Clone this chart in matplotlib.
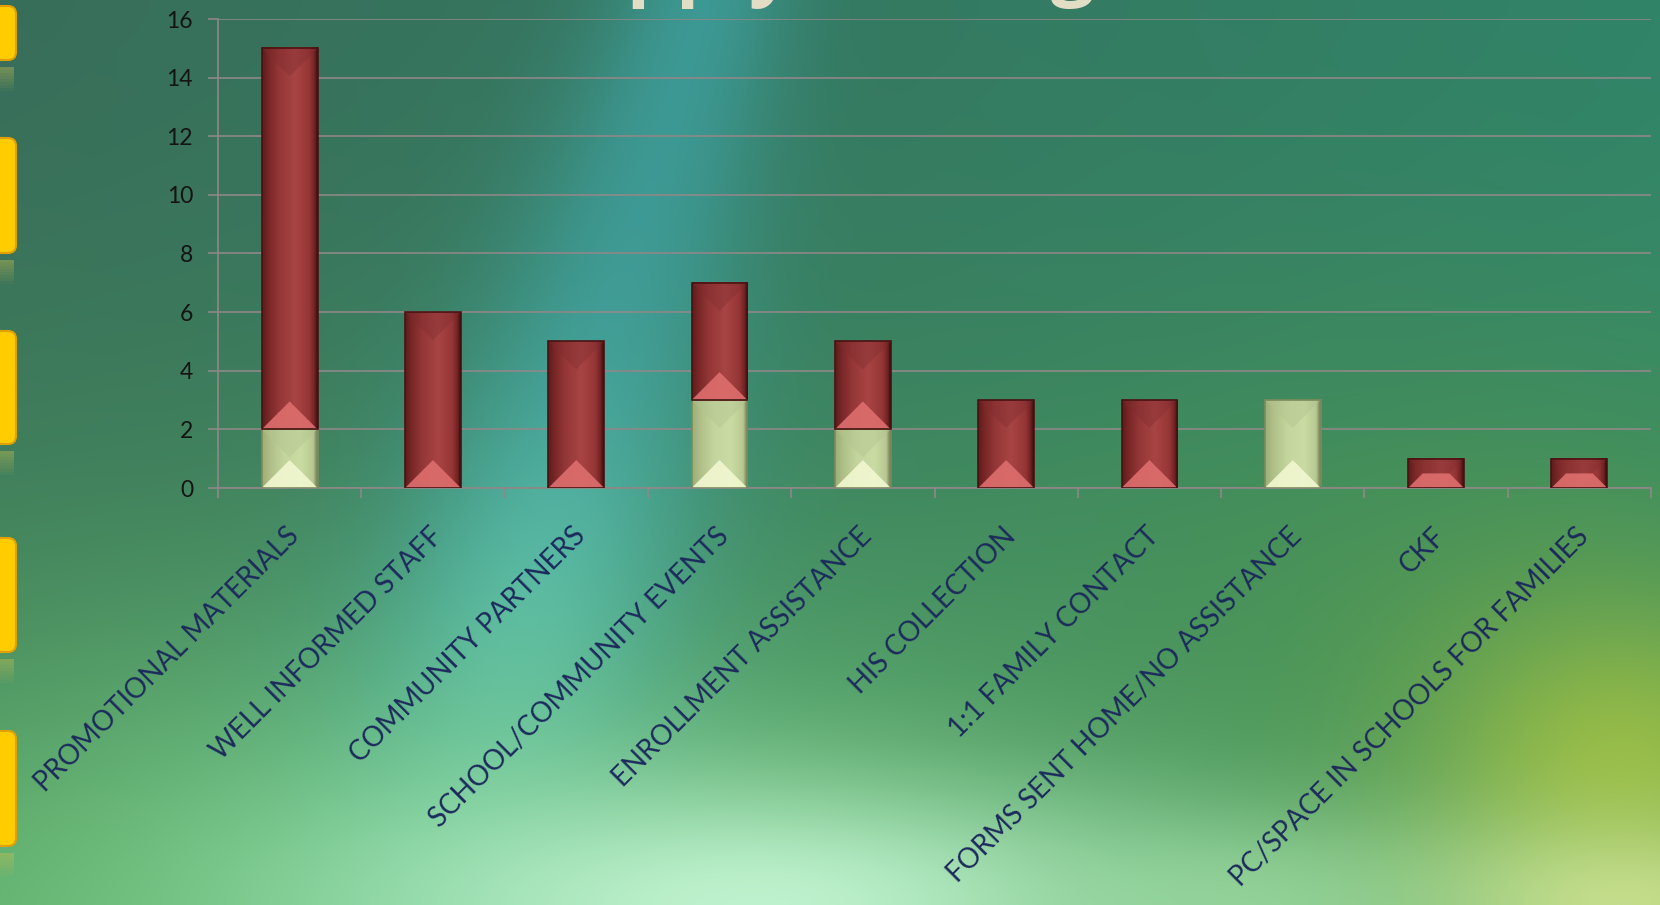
import numpy as np
import matplotlib.pyplot as plt
from matplotlib.patches import Polygon, FancyBboxPatch, Rectangle
from matplotlib.colors import LinearSegmentedColormap, to_rgb
from matplotlib.transforms import ScaledTranslation

# chart data
categories = ['PROMOTIONAL MATERIALS', 'WELL INFORMED STAFF', 'COMMUNITY PARTNERS',
              'SCHOOL/COMMUNITY EVENTS', 'ENROLLMENT ASSISTANCE', 'HIS COLLECTION',
              '1:1 FAMILY CONTACT', 'FORMS SENT HOME/NO ASSISTANCE', 'CKF',
              'PC/SPACE IN SCHOOLS FOR FAMILIES']
series_light = [2, 0, 0, 3, 2, 0, 0, 3, 0, 0]    # pale green, bottom of stack
series_red = [13, 6, 5, 4, 3, 3, 3, 0, 1, 1]     # dark red, on top
y_ticks = [0, 2, 4, 6, 8, 10, 12, 14, 16]
title = 'Apply Strategies'

W, H = 1660, 905
fig = plt.figure(figsize=(W / 100, H / 100), dpi=100)

# background gradient
bg = fig.add_axes([0, 0, 1, 1], zorder=-10)
bg.set_axis_off()
yy, xx = np.mgrid[0:H, 0:W].astype(float)
v = yy / H
u = xx / W
top = np.array(to_rgb('#386e5a'))[None, None, :] * (1 - u[..., None]) + \
    np.array(to_rgb('#318468'))[None, None, :] * u[..., None]
bot = np.array(to_rgb('#4e9c5c'))
img = top * (1 - v[..., None] ** 1.6) + bot[None, None, :] * (v[..., None] ** 1.6)


def blend(img, col, a):
    c = np.array(to_rgb(col))
    return img * (1 - a[..., None]) + c[None, None, :] * a[..., None]


# teal streak running down-left from the top middle
lx0, ly0, lx1, ly1 = 720, -60, 470, 820
dxl, dyl = lx1 - lx0, ly1 - ly0
L = np.hypot(dxl, dyl)
t = ((xx - lx0) * dxl + (yy - ly0) * dyl) / L ** 2
dist = np.abs((xx - lx0) * dyl - (yy - ly0) * dxl) / L
img = blend(img, '#3e9e9c', 0.85 * np.exp(-(dist / (80 + 110 * np.clip(t, 0, 1))) ** 2) * np.clip(1.2 - 0.3 * t, 0, 1))
img = blend(img, '#62c8b2', 0.6 * np.exp(-(dist / 110) ** 2) * np.exp(-((t - 0.78) / 0.25) ** 2))
# right side warmer green
img = blend(img, '#4e9450', 0.6 * np.exp(-((xx - 1450) / 380) ** 2 - ((yy - 620) / 260) ** 2))
img = blend(img, '#a4c242', 0.85 * np.exp(-((xx - 1620) / 200) ** 2 - ((yy - 770) / 170) ** 2))
img = blend(img, '#cfe290', 0.9 * np.exp(-((xx - 1620) / 220) ** 2 - ((yy - 905) / 90) ** 2))
# light bottom glow
img = blend(img, '#82d48c', 0.75 * np.exp(-((xx - 450) / 600) ** 2 - ((yy - 905) / 260) ** 2))
img = blend(img, '#c2f4d2', 0.95 * np.exp(-((xx - 760) / 400) ** 2 - ((yy - 905) / 120) ** 2))
img = blend(img, '#a8e4ac', 0.6 * np.exp(-((xx - 1250) / 220) ** 2 - ((yy - 905) / 90) ** 2))
bg.imshow(np.clip(img, 0, 1), extent=(0, W, H, 0), aspect='auto')
bg.set_xlim(0, W)
bg.set_ylim(H, 0)

# yellow tabs on the left edge, with a faded reflection under each
for y0, y1 in [(0, 66), (132, 259), (325, 450), (532, 658), (725, 852)]:
    bg.add_patch(FancyBboxPatch((-12, y0 + 6), 28, y1 - y0 - 12,
                                boxstyle='round,pad=0,rounding_size=8',
                                fc='#ffcc00', ec='#e0a000', lw=1.5))
    for k in range(8):
        bg.add_patch(Rectangle((0, y1 + 1 + k * 3), 14, 3, fc='#c8c050', ec='none',
                               alpha=0.4 * (1 - k / 8)))

# title, mostly above the top edge (as in the slide)
fig.text(0.535, 1 + 10 / H, title, ha='center', va='baseline', fontsize=56,
         fontweight='bold', family='Open Sans', color='#e2dec6')

ax = fig.add_axes([218 / W, 1 - 488 / H, (1651 - 218) / W, (488 - 19) / H])
ax.set_facecolor('none')
n = len(categories)
x = np.arange(n)
ax.set_xlim(-0.5, n - 0.5)
ax.set_ylim(0, 16)

red_cmap = LinearSegmentedColormap.from_list('r', [(0, '#5e1c1c'), (0.12, '#7a2828'), (0.3, '#943636'),
                                                  (0.6, '#a84444'), (0.85, '#963636'), (0.95, '#702222'),
                                                  (1, '#3a0c0c')])
green_cmap = LinearSegmentedColormap.from_list('g', [(0, '#9eae78'), (0.15, '#b0c088'), (0.4, '#c4d69e'),
                                                    (0.7, '#cadca4'), (0.92, '#b8c892'), (1, '#6e7a50')])
styles = {
    'red': dict(cmap=red_cmap, bottom='#de6e6e', top='#7e2c30', edge='#4a1212', ta=0.35),
    'green': dict(cmap=green_cmap, bottom='#f2f8d2', top='#b4c490', edge='#7e8a5c', ta=0.45),
}
bar_w = 0.39
grad = np.linspace(0, 1, 64)[None, :]


def bevel_bar(x0, x1, y0, y1, st):
    p0 = ax.transData.transform((0, 0))
    p1 = ax.transData.transform((1, 1))
    sx, sy = p1[0] - p0[0], p1[1] - p0[1]
    d = min(28, (x1 - x0) * sx / 2, (y1 - y0) * sy / 2)
    dx, dy = d / sx, d / sy
    ax.imshow(grad, cmap=st['cmap'], extent=(x0, x1, y0, y1), aspect='auto', zorder=3)
    ax.add_patch(Polygon([(x0, y0), (x1, y0), (x1 - dx, y0 + dy), (x0 + dx, y0 + dy)],
                         closed=True, fc=st['bottom'], ec='none', alpha=0.9, zorder=4))
    ax.add_patch(Polygon([(x0, y1), (x1, y1), (x1 - dx, y1 - dy), (x0 + dx, y1 - dy)],
                         closed=True, fc=st['top'], ec='none', alpha=st['ta'], zorder=4))
    ax.add_patch(Rectangle((x0, y0), x1 - x0, y1 - y0, fc='none', ec=st['edge'], lw=1.2, zorder=5))


for i in range(n):
    b = 0
    for val, key in [(series_light[i], 'green'), (series_red[i], 'red')]:
        if val > 0:
            bevel_bar(x[i] - bar_w / 2, x[i] + bar_w / 2, b, b + val, styles[key])
        b += val

# grid and axes
ax.set_yticks(y_ticks)
ax.yaxis.grid(True, color='#8e8888', lw=1.2, zorder=1)
ax.set_axisbelow(True)
for s in ['top', 'right']:
    ax.spines[s].set_visible(False)
ax.spines['left'].set_color('#8e8888')
ax.spines['bottom'].set_color('#8e8888')
ax.spines['left'].set_linewidth(1.2)
ax.spines['bottom'].set_linewidth(1.2)
ax.tick_params(axis='y', length=7, width=1.2, color='#8e8888', pad=11, labelsize=16.5,
               labelcolor='#141414')
for lab in ax.get_yticklabels():
    lab.set_family('Lato')

ax.set_xticks(x)
ax.set_xticks(np.arange(-0.5, n, 1), minor=True)
ax.tick_params(axis='x', which='major', length=0, pad=25)
ax.tick_params(axis='x', which='minor', length=7, width=1.2, color='#8e8888')
ax.set_xticklabels(categories, rotation=45, ha='right', rotation_mode='anchor',
                   fontsize=20, color='#1c2a5c', family='Lato')
shift = ScaledTranslation(-4 / 100, 0, fig.dpi_scale_trans)
for lab in ax.get_xticklabels():
    lab.set_transform(lab.get_transform() + shift)

fig.savefig('out.png', dpi=100)
